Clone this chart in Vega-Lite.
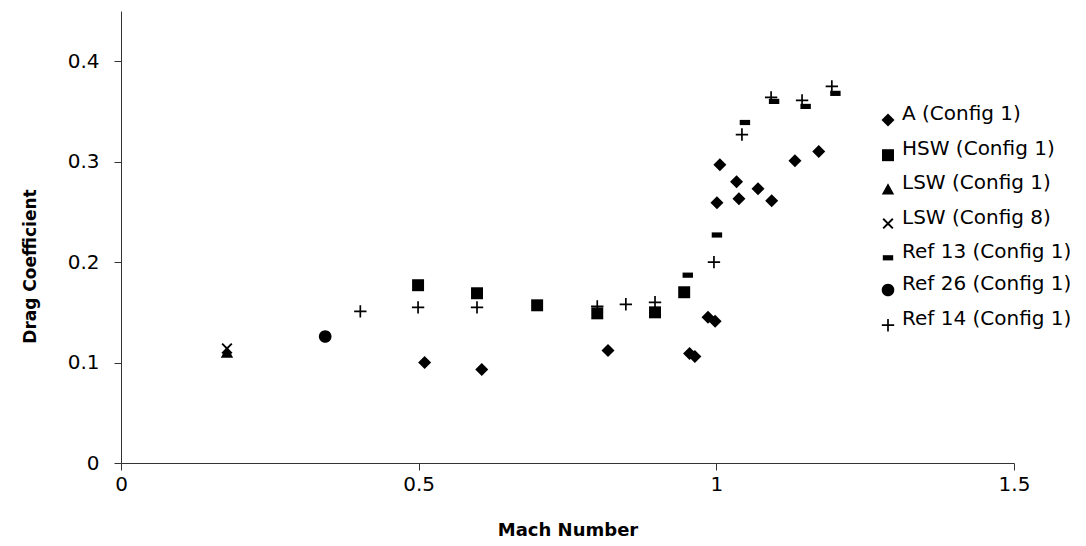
{
  "$schema": "https://vega.github.io/schema/vega-lite/v6.json",
  "autosize": "none",
  "padding": {"left": 121, "top": 11, "right": 72, "bottom": 83},
  "width": 893,
  "height": 452,
  "background": "white",
  "config": {
    "view": {"stroke": null},
    "font": "DejaVu Sans",
    "axis": {"domainColor": "#333", "tickColor": "#333", "labelColor": "black", "titleColor": "black", "grid": false}
  },
  "data": {
    "values": [
      {"s": "A (Config 1)", "m": 0.51, "cd": 0.100},
      {"s": "A (Config 1)", "m": 0.606, "cd": 0.093},
      {"s": "A (Config 1)", "m": 0.818, "cd": 0.112},
      {"s": "A (Config 1)", "m": 0.955, "cd": 0.109},
      {"s": "A (Config 1)", "m": 0.964, "cd": 0.106},
      {"s": "A (Config 1)", "m": 0.986, "cd": 0.145},
      {"s": "A (Config 1)", "m": 0.998, "cd": 0.141},
      {"s": "A (Config 1)", "m": 1.001, "cd": 0.259},
      {"s": "A (Config 1)", "m": 1.006, "cd": 0.297},
      {"s": "A (Config 1)", "m": 1.034, "cd": 0.280},
      {"s": "A (Config 1)", "m": 1.038, "cd": 0.263},
      {"s": "A (Config 1)", "m": 1.07, "cd": 0.273},
      {"s": "A (Config 1)", "m": 1.093, "cd": 0.261},
      {"s": "A (Config 1)", "m": 1.132, "cd": 0.301},
      {"s": "A (Config 1)", "m": 1.172, "cd": 0.310},
      {"s": "HSW (Config 1)", "m": 0.499, "cd": 0.177},
      {"s": "HSW (Config 1)", "m": 0.598, "cd": 0.169},
      {"s": "HSW (Config 1)", "m": 0.699, "cd": 0.157},
      {"s": "HSW (Config 1)", "m": 0.80, "cd": 0.149},
      {"s": "HSW (Config 1)", "m": 0.897, "cd": 0.150},
      {"s": "HSW (Config 1)", "m": 0.946, "cd": 0.170},
      {"s": "LSW (Config 1)", "m": 0.178, "cd": 0.110},
      {"s": "LSW (Config 8)", "m": 0.178, "cd": 0.114},
      {"s": "Ref 13 (Config 1)", "m": 0.952, "cd": 0.187},
      {"s": "Ref 13 (Config 1)", "m": 1.001, "cd": 0.227},
      {"s": "Ref 13 (Config 1)", "m": 1.048, "cd": 0.339},
      {"s": "Ref 13 (Config 1)", "m": 1.097, "cd": 0.360},
      {"s": "Ref 13 (Config 1)", "m": 1.15, "cd": 0.355},
      {"s": "Ref 13 (Config 1)", "m": 1.2, "cd": 0.368},
      {"s": "Ref 26 (Config 1)", "m": 0.343, "cd": 0.126},
      {"s": "Ref 14 (Config 1)", "m": 0.402, "cd": 0.151},
      {"s": "Ref 14 (Config 1)", "m": 0.499, "cd": 0.155},
      {"s": "Ref 14 (Config 1)", "m": 0.598, "cd": 0.155},
      {"s": "Ref 14 (Config 1)", "m": 0.80, "cd": 0.156},
      {"s": "Ref 14 (Config 1)", "m": 0.848, "cd": 0.158},
      {"s": "Ref 14 (Config 1)", "m": 0.897, "cd": 0.160},
      {"s": "Ref 14 (Config 1)", "m": 0.996, "cd": 0.200},
      {"s": "Ref 14 (Config 1)", "m": 1.043, "cd": 0.327},
      {"s": "Ref 14 (Config 1)", "m": 1.092, "cd": 0.364},
      {"s": "Ref 14 (Config 1)", "m": 1.144, "cd": 0.361},
      {"s": "Ref 14 (Config 1)", "m": 1.194, "cd": 0.375}
    ]
  },
  "mark": {"type": "point", "filled": true, "color": "black", "strokeWidth": 0, "size": 169, "opacity": 1},
  "encoding": {
    "x": {
      "field": "m", "type": "quantitative",
      "scale": {"domain": [0, 1.5], "nice": false, "zero": false},
      "axis": {
        "values": [0, 0.5, 1, 1.5], "format": "~g",
        "title": "Mach Number", "titleFont": "DejaVu Sans", "titleFontWeight": "bold", "titleFontSize": 18,
        "titleY": 67, "titleBaseline": "middle",
        "labelFontSize": 20, "labelFont": "DejaVu Sans", "labelPadding": 4, "tickSize": 7, "labelFlush": false, "labelOverlap": false
      }
    },
    "y": {
      "field": "cd", "type": "quantitative",
      "scale": {"domain": [0, 0.45], "nice": false, "zero": false},
      "axis": {
        "values": [0, 0.1, 0.2, 0.3, 0.4], "format": "~g",
        "title": "Drag Coefficient", "titleFont": "DejaVu Sans", "titleFontWeight": "bold", "titleFontSize": 17,
        "titleX": -91, "titleY": 255, "titleAngle": -90, "titleBaseline": "middle", "titleAlign": "center",
        "labelFontSize": 20, "labelFont": "DejaVu Sans", "labelPadding": 15, "tickSize": 7, "labelFlush": false, "labelOverlap": false
      }
    },
    "shape": {
      "field": "s", "type": "nominal",
      "scale": {
        "domain": ["A (Config 1)", "HSW (Config 1)", "LSW (Config 1)", "LSW (Config 8)", "Ref 13 (Config 1)", "Ref 26 (Config 1)", "Ref 14 (Config 1)"],
        "range": [
          "M0,-1L1,0L0,1L-1,0Z",
          "M-0.92,-0.92L0.92,-0.92L0.92,0.92L-0.92,0.92Z",
          "M0,-0.95L0.95,0.8L-0.95,0.8Z",
          "M0,-0.21L0.636,-0.848L0.848,-0.636L0.21,0L0.848,0.636L0.636,0.848L0,0.21L-0.636,0.848L-0.848,0.636L-0.21,0L-0.848,-0.636L-0.636,-0.848Z",
          "M-0.8,-0.4L0.8,-0.4L0.8,0.4L-0.8,0.4Z",
          "M0.97,0A0.97,0.97,0,1,1,-0.97,0A0.97,0.97,0,1,1,0.97,0Z",
          "M-0.95,-0.13L-0.13,-0.13L-0.13,-0.95L0.13,-0.95L0.13,-0.13L0.95,-0.13L0.95,0.13L0.13,0.13L0.13,0.95L-0.13,0.95L-0.13,0.13L-0.95,0.13Z"
        ]
      },
      "legend": {
        "orient": "none", "legendX": 757, "legendY": 99, "title": null,
        "padding": 0, "rowPadding": 12.2, "symbolSize": 169,
        "symbolFillColor": "black", "symbolStrokeWidth": 0, "symbolOpacity": 1,
        "labelFont": "DejaVu Sans", "labelFontSize": 20, "labelColor": "black", "labelOffset": 4,
        "labelBaseline": "alphabetic", "labelLimit": 400,
        "encode": {
          "symbols": {
            "update": {
              "fill": {"value": "black"},
              "strokeWidth": {"value": 0},
              "size": {"value": 169},
              "opacity": {"value": 1}
            }
          }
        }
      }
    }
  }
}
